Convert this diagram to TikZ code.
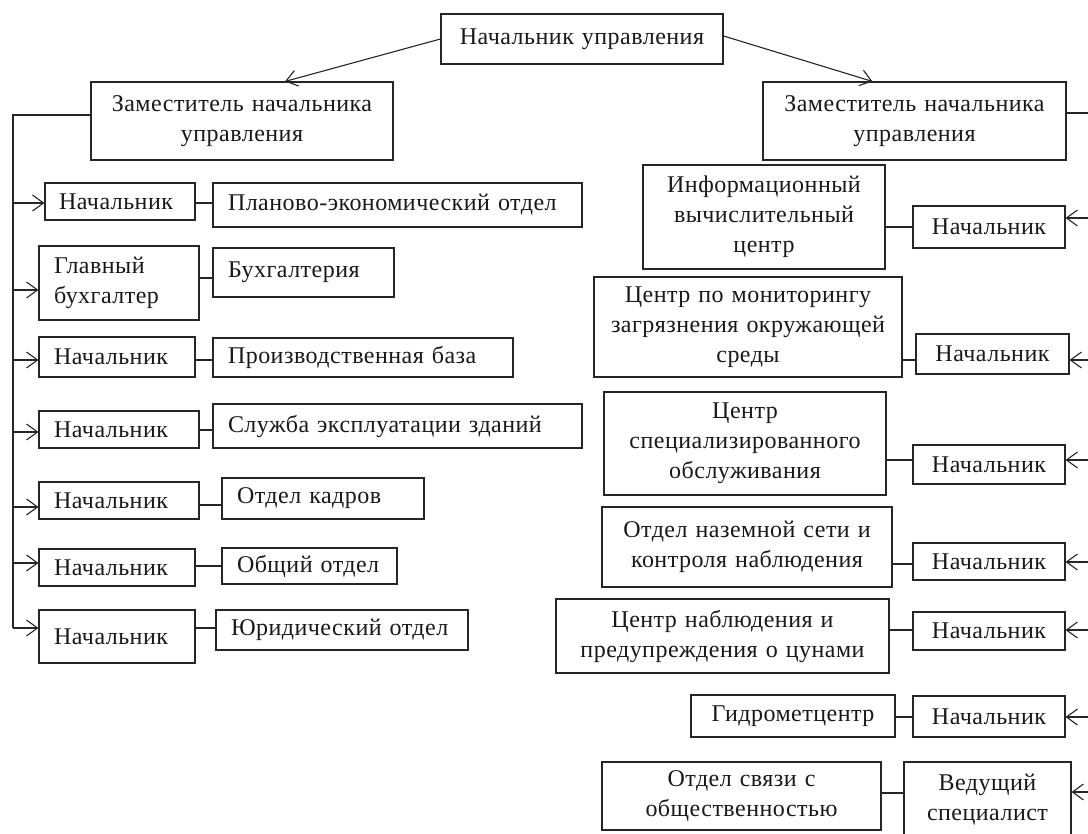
\documentclass[tikz,border=0pt]{standalone}
\usepackage{fontspec}
\setmainfont{Liberation Serif}[LetterSpace=2]
\usetikzlibrary{arrows.meta}
\hyphenpenalty=10000
\exhyphenpenalty=10000
\tikzset{
  box/.style={draw=black!85, line width=1.1pt, inner ysep=0pt, font=\fontsize{24}{30}\selectfont, text=black!90},
  link/.style={draw=black!85, line width=1.1pt},
  arr/.style={link, -{Straight Barb[length=11pt,width=16pt,line width=1.1pt]}}
}
% name, x1, y1, x2, y2, pad, align, text
\newcommand\bx[8]{%
  \pgfmathsetmacro\bxw{#4-#2}%
  \pgfmathsetmacro\bxh{#5-#3}%
  \pgfmathsetmacro\bxcx{(#2+#4)/2}%
  \pgfmathsetmacro\bxcy{(#3+#5)/2}%
  \pgfmathsetmacro\bxtw{#4-#2-2*#6}%
  \node[box, inner xsep=#6pt, minimum width=\bxw pt, minimum height=\bxh pt,
        text width=\bxtw pt, align=#7] (#1) at (\bxcx,\bxcy) {#8};}
\begin{document}
\begin{tikzpicture}[x=1pt,y=-1pt]
\clip (0,0) rectangle (1088,834);
\fill[white] (0,0) rectangle (1088,834);

% top level
\bx{top}{441}{14}{723}{64}{2}{center}{Начальник управления}
\bx{depL}{91}{82}{393}{160}{2}{center}{Заместитель начальника\\управления}
\bx{depR}{763}{82}{1066}{160}{2}{center}{Заместитель начальника\\управления}

% left column
\bx{n1}{45}{183}{195}{220}{14}{left}{Начальник}
\bx{p1}{213}{183}{582}{227}{15}{left}{Планово-экономический отдел}
\bx{n2}{39}{246}{199}{320}{15}{left}{Главный\\бухгалтер}
\bx{p2}{213}{248}{394}{297}{15}{left}{Бухгалтерия}
\bx{n3}{39}{337}{195}{377}{15}{left}{Начальник}
\bx{p3}{213}{338}{513}{377}{15}{left}{Производственная база}
\bx{n4}{39}{411}{199}{448}{15}{left}{Начальник}
\bx{p4}{213}{404}{582}{448}{15}{left}{Служба эксплуатации зданий}
\bx{n5}{39}{482}{199}{519}{15}{left}{Начальник}
\bx{p5}{222}{478}{424}{519}{15}{left}{Отдел кадров}
\bx{n6}{39}{549}{195}{586}{15}{left}{Начальник}
\bx{p6}{222}{548}{397}{584}{15}{left}{Общий отдел}
\bx{n7}{39}{610}{195}{663}{15}{left}{Начальник}
\bx{p7}{216}{610}{468}{650}{15}{left}{Юридический отдел}

% right column
\bx{i1}{643}{165}{885}{269}{2}{center}{Информационный\\вычислительный\\центр}
\bx{m1}{913}{206}{1065}{248}{2}{center}{Начальник}
\bx{i2}{594}{277}{902}{377}{2}{center}{Центр по мониторингу\\загрязнения окружающей\\среды}
\bx{m2}{916}{334}{1069}{374}{2}{center}{Начальник}
\bx{i3}{604}{392}{886}{495}{2}{center}{Центр\\специализированного\\обслуживания}
\bx{m3}{913}{445}{1065}{484}{2}{center}{Начальник}
\bx{i4}{602}{507}{892}{587}{2}{center}{Отдел наземной сети и\\контроля наблюдения}
\bx{m4}{913}{543}{1065}{580}{2}{center}{Начальник}
\bx{i5}{556}{599}{889}{673}{2}{center}{Центр наблюдения и\\предупреждения о цунами}
\bx{m5}{913}{612}{1065}{650}{2}{center}{Начальник}
\bx{i6}{691}{695}{895}{737}{2}{center}{Гидрометцентр}
\bx{m6}{913}{696}{1065}{737}{2}{center}{Начальник}
\bx{i7}{602}{762}{881}{830}{2}{center}{Отдел связи с\\общественностью}
\bx{m7}{904}{762}{1071}{838}{2}{center}{Ведущий\\специалист}

% top arrows
\draw[arr] (top.west) -- ([xshift=43pt]depL.north);
\draw[arr] ([yshift=3pt]top.east) -- ([xshift=-42pt]depR.north);

% left bus
\coordinate (bus0) at (13,115);
\coordinate (bus1) at (13,203);
\coordinate (bus2) at (13,290);
\coordinate (bus3) at (13,360);
\coordinate (bus4) at (13,432);
\coordinate (bus5) at (13,507);
\coordinate (bus6) at (13,563);
\coordinate (bus7) at (13,628);
\draw[link] (depL.west |- bus0) -- (bus0) -- (bus7);
\draw[arr] (bus1) -- (n1.west |- bus1);
\draw[arr] (bus2) -- (n2.west |- bus2);
\draw[arr] (bus3) -- (n3.west |- bus3);
\draw[arr] (bus4) -- (n4.west |- bus4);
\draw[arr] (bus5) -- (n5.west |- bus5);
\draw[arr] (bus6) -- (n6.west |- bus6);
\draw[arr] (bus7) -- (n7.west |- bus7);

% left connectors
\draw[link] (n1.east |- 0,203) -- (p1.west |- 0,203);
\draw[link] (n2.east |- 0,278) -- (p2.west |- 0,278);
\draw[link] (n3.east |- 0,360) -- (p3.west |- 0,360);
\draw[link] (n4.east |- 0,430) -- (p4.west |- 0,430);
\draw[link] (n5.east |- 0,505) -- (p5.west |- 0,505);
\draw[link] (n6.east |- 0,566) -- (p6.west |- 0,566);
\draw[link] (n7.east |- 0,628) -- (p7.west |- 0,628);

% right bus (its vertical part lies beyond the visible edge)
\coordinate (rb0) at (1090,113);
\coordinate (rb1) at (1090,218);
\coordinate (rb2) at (1090,360);
\coordinate (rb3) at (1090,460);
\coordinate (rb4) at (1090,562);
\coordinate (rb5) at (1090,630);
\coordinate (rb6) at (1090,717);
\coordinate (rb7) at (1090,792);
\draw[link] (depR.east |- rb0) -- (rb0);
\draw[arr] (rb1) -- (m1.east |- rb1);
\draw[arr] (rb2) -- (m2.east |- rb2);
\draw[arr] (rb3) -- (m3.east |- rb3);
\draw[arr] (rb4) -- (m4.east |- rb4);
\draw[arr] (rb5) -- (m5.east |- rb5);
\draw[arr] (rb6) -- (m6.east |- rb6);
\draw[arr] (rb7) -- (m7.east |- rb7);

% right connectors
\draw[link] (i1.east |- 0,227) -- (m1.west |- 0,227);
\draw[link] (i2.east |- 0,360) -- (m2.west |- 0,360);
\draw[link] (i3.east |- 0,460) -- (m3.west |- 0,460);
\draw[link] (i4.east |- 0,564) -- (m4.west |- 0,564);
\draw[link] (i5.east |- 0,630) -- (m5.west |- 0,630);
\draw[link] (i6.east |- 0,717) -- (m6.west |- 0,717);
\draw[link] (i7.east |- 0,793) -- (m7.west |- 0,793);
\end{tikzpicture}
\end{document}
